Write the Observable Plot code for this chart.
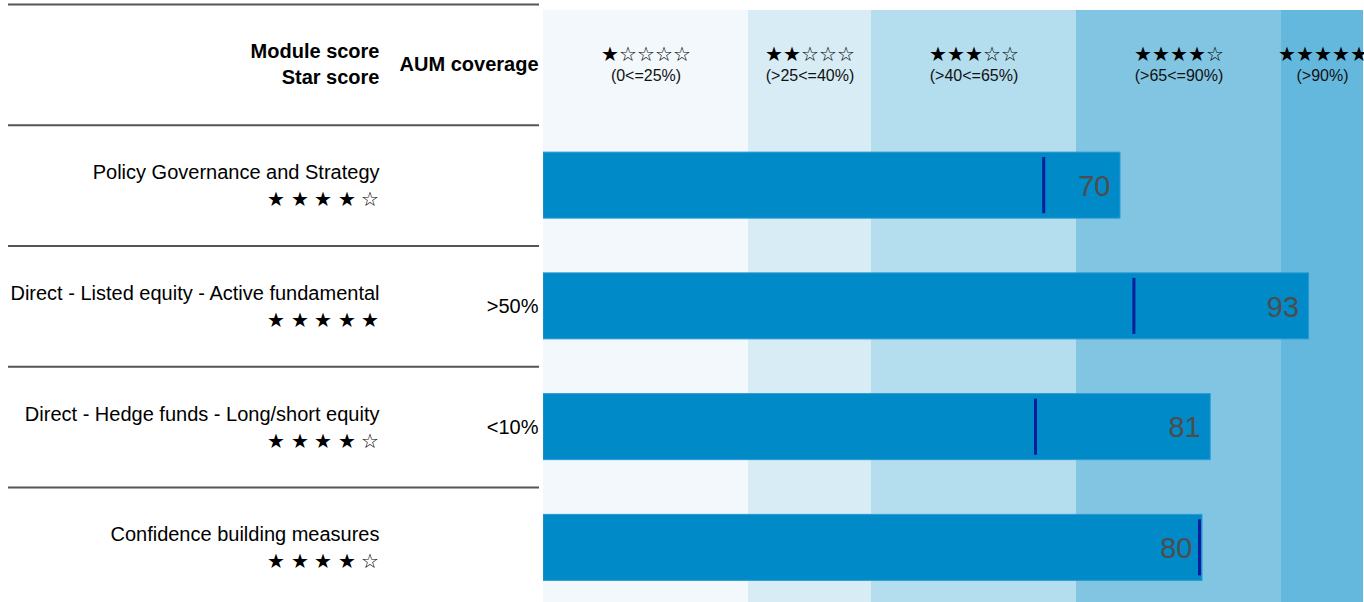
<!DOCTYPE html>
<html>
<head>
<meta charset="utf-8">
<script src="https://cdn.jsdelivr.net/npm/d3@7"></script>
<script src="https://cdn.jsdelivr.net/npm/@observablehq/plot@0.6"></script>
<style>
  html, body { margin: 0; padding: 0; background: #fff; overflow: hidden; }
  #chart { display: flex; flex-direction: row; width: 1364px; height: 602px; }
  #chart svg { display: block; font-family: "Liberation Sans", Arial, sans-serif; }
</style>
</head>
<body>
<div id="chart"></div>
<script>
// ---- data ----
const categories = [
  "Policy Governance and Strategy",
  "Direct - Listed equity - Active fundamental",
  "Direct - Hedge funds - Long/short equity",
  "Confidence building measures"
];
const scores = [70, 93, 81, 80];
const medians = [61, 72, 60, 80];
const starScores = [4, 5, 4, 4];
const aumCoverage = ["", ">50%", "<10%", ""];
const bandLower = [0, 25, 40, 65, 90];
const bandUpper = [25, 40, 65, 90, 100];
const bandStars = [1, 2, 3, 4, 5];
const bandLabels = ["(0<=25%)", "(>25<=40%)", "(>40<=65%)", "(>65<=90%)", "(>90%)"];
const headerLabels = ["Module score", "Star score", "AUM coverage"];

// ---- derived tables ----
const HEADER = "__header__";
const rowsDomain = [HEADER, ...categories];
const rows = categories.map((c, i) => ({
  cat: c, score: scores[i], median: medians[i],
  stars: Array.from({length: 5}, (_, k) => k < starScores[i] ? "★" : "☆").join(" "),
  aum: aumCoverage[i]
}));
const bands = bandLower.map((lo, i) => ({
  lo, hi: bandUpper[i],
  stars: "★".repeat(bandStars[i]) + "☆".repeat(5 - bandStars[i]),
  label: bandLabels[i]
}));
const bandColors = ["#f2f8fc", "#d7ecf5", "#b4ddee", "#81c5e3", "#64b8de"];

// ---- layout (styles) ----
const H = 602;
const yRange = [4, 607.75];
const step = (yRange[1] - yRange[0]) / rowsDomain.length;
const yScale = {type: "band", domain: rowsDomain, range: yRange, padding: 0, round: false};
const barInset = (step - 66) / 2;
const tickInsetTop = barInset + 5, tickInsetBottom = barInset + 5;

// ---- left panel ----
const left = Plot.plot({
  width: 543, height: H,
  marginLeft: 8, marginRight: 4, marginTop: 0, marginBottom: 0,
  x: {domain: [0, 1], axis: null},
  y: {...yScale, axis: null},
  marks: [
    Plot.ruleY(rowsDomain, {y: d => d, dy: -step / 2, stroke: "#555", strokeWidth: 2}),
    Plot.text([headerLabels[0]], {y: () => HEADER, frameAnchor: "right", dx: -160, dy: -13, textAnchor: "end",
      fontSize: 20, fontWeight: "bold", fill: "#000"}),
    Plot.text([headerLabels[1]], {y: () => HEADER, frameAnchor: "right", dx: -160, dy: 13, textAnchor: "end",
      fontSize: 20, fontWeight: "bold", fill: "#000"}),
    Plot.text([headerLabels[2]], {y: () => HEADER, frameAnchor: "right", dx: -1, dy: 0, textAnchor: "end",
      fontSize: 20, fontWeight: "bold", fill: "#000"}),
    Plot.text(rows, {y: "cat", text: "cat", frameAnchor: "right", dx: -160, dy: -13, textAnchor: "end",
      fontSize: 20, fill: "#000"}),
    Plot.text(rows, {y: "cat", text: "stars", frameAnchor: "right", dx: -160, dy: 14, textAnchor: "end",
      fontSize: 20, fill: "#000"}),
    Plot.text(rows, {y: "cat", text: "aum", frameAnchor: "right", dx: -1, textAnchor: "end",
      fontSize: 20, fill: "#000"})
  ]
});

// ---- right panel ----
const right = Plot.plot({
  width: 821, height: H,
  marginLeft: 0, marginRight: 1, marginTop: 10, marginBottom: 0,
  x: {domain: [0, 100], axis: null},
  y: {...yScale, axis: null},
  color: {type: "ordinal", domain: bandLabels, range: bandColors},
  marks: [
    Plot.rectX(bands, {x1: "lo", x2: "hi", fill: "label"}),
    Plot.ruleX([0], {y: () => HEADER, stroke: "#a9d5ea", strokeWidth: 1.5, insetTop: 30, insetBottom: 30}),
    Plot.text(bands, {x: d => (d.lo + d.hi) / 2, y: () => HEADER, text: "stars", dy: -10,
      fontSize: 20, fill: "#000"}),
    Plot.text(bands, {x: d => (d.lo + d.hi) / 2, y: () => HEADER, text: "label", dy: 11,
      fontSize: 16, fill: "#111"}),
    Plot.barX(rows, {x: "score", y: "cat", fill: "#008ac8", stroke: "#2a9ad2", strokeWidth: 1,
      insetTop: barInset, insetBottom: barInset, insetRight: -3}),
    Plot.tickX(rows, {x: "median", y: "cat", stroke: "#0a1d9a", strokeWidth: 3,
      insetTop: tickInsetTop, insetBottom: tickInsetBottom}),
    Plot.text(rows, {x: "score", y: "cat", text: d => String(Math.round(d.score)), textAnchor: "end", dx: -7, dy: 1,
      fontSize: 29, fill: "#4d4d4d"})
  ]
});

const chart = document.getElementById("chart");
chart.appendChild(left);
chart.appendChild(right);
</script>
</body>
</html>
